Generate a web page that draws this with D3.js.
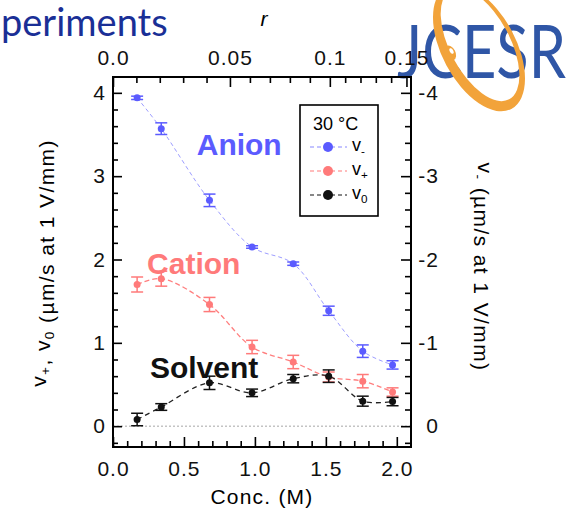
<!DOCTYPE html>
<html>
<head>
<meta charset="utf-8">
<script src="https://cdn.jsdelivr.net/npm/d3@7"></script>
<style>
  body { margin: 0; background: #fff; }
  svg { display: block; font-family: "Liberation Sans", Arial, sans-serif; }
  .tick text { font-size: 21px; letter-spacing: 1px; fill: #111; }
</style>
</head>
<body>
<svg id="viz"></svg>
<script>
// the data
var conc = [0.17, 0.34, 0.68, 0.98, 1.27, 1.52, 1.76, 1.97];
var vMinus = [-3.94, -3.57, -2.71, -2.15, -1.95, -1.385, -0.90, -0.735];
var errMinus = [0.02, 0.07, 0.075, 0.015, 0.02, 0.055, 0.075, 0.05];
var vPlus = [1.70, 1.77, 1.46, 0.95, 0.77, 0.59, 0.54, 0.41];
var errPlus = [0.09, 0.09, 0.085, 0.08, 0.08, 0.06, 0.08, 0.05];
var vZero = [0.08, 0.23, 0.52, 0.40, 0.57, 0.60, 0.30, 0.295];
var errZero = [0.075, 0.04, 0.08, 0.045, 0.05, 0.075, 0.06, 0.05];

// top axis: r against concentration
var rTicks = [0, 0.05, 0.1, 0.15];
var rLabels = ["0.0", "0.05", "0.1", "0.15"];
var rConc = [0, 0.824, 1.528, 2.068];

var xTicks = [0, 0.5, 1, 1.5, 2];
var xLabels = ["0.0", "0.5", "1.0", "1.5", "2.0"];
var yTicks = [0, 1, 2, 3, 4];
var yRTicks = [0, -1, -2, -3, -4];

// set up the svg
var w = 566, h = 509;
var svg = d3.select("#viz").attr("width", w).attr("height", h);

var pL = 113, pR = 411, pT = 77, pB = 447;
var x = d3.scaleLinear().domain([0, 2.1]).range([pL, pR]);
var y = d3.scaleLinear().domain([-0.25, 4.19]).range([pB, pT]);
var yR = d3.scaleLinear().domain([0.25, -4.19]).range([pB, pT]);
var rScale = d3.scaleLinear().domain(rTicks).range(rConc.map(x));

var blue = "#5b5bff", pink = "#ff7a7a", black = "#111";

// slide title fragment and logo (behind the chart)
svg.append("text").attr("x", 1).attr("y", 36)
  .style("font-family", "Lato, sans-serif").style("font-size", "38px")
  .attr("fill", "#1a2f96").text("periments");

var logo = svg.append("g");
logo.append("text").attr("x", 397).attr("y", 78)
  .attr("textLength", 169).attr("lengthAdjust", "spacingAndGlyphs")
  .style("font-family", "Lato, sans-serif").style("font-size", "74px")
  .attr("fill", "#2f56a6").text("JCESR");

// ring as a crescent: outer ellipse minus a shifted inner one
function ell(cx, cy, rx, ry) {
  return "M" + (cx - rx) + "," + cy + " a" + rx + "," + ry + " 0 1,0 " + (2 * rx) + ",0" +
    " a" + rx + "," + ry + " 0 1,0 " + (-2 * rx) + ",0 Z";
}
logo.append("path")
  .attr("d", ell(0, 0, 37, 69) + ell(2.5, -2.5, 30, 62))
  .attr("transform", "translate(479,48) rotate(-28)")
  .attr("fill", "#f2a33a").attr("fill-rule", "evenodd");
logo.append("ellipse").attr("cx", 450).attr("cy", 53).attr("rx", 5.5).attr("ry", 8)
  .attr("transform", "rotate(-28,450,53)").attr("fill", "#f2a33a");
logo.append("ellipse").attr("cx", 451.5).attr("cy", 51).attr("rx", 1.8).attr("ry", 3)
  .attr("transform", "rotate(-28,451.5,51)").attr("fill", "#fff");

// zero line
svg.append("line").attr("x1", pL).attr("x2", pR)
  .attr("y1", y(0)).attr("y2", y(0))
  .attr("stroke", "#c4c4c4").attr("stroke-width", 1.5).attr("stroke-dasharray", "2,2");

// axes: major and minor ticks point inward
function minor(lo, hi, step, majors) {
  return d3.range(lo, hi + 1e-9, step).map(function(d) { return +d.toFixed(3); })
    .filter(function(d) { return majors.indexOf(d) < 0; });
}

function drawAxis(axis, majors, minors, tx, ty, big, small, pad, fmt) {
  var g = svg.append("g").attr("transform", "translate(" + tx + "," + ty + ")");
  g.call(axis.tickValues(majors).tickSize(-big).tickSizeOuter(0).tickPadding(pad).tickFormat(fmt));
  g.select(".domain").remove();
  var g2 = svg.append("g").attr("transform", "translate(" + tx + "," + ty + ")");
  g2.call(axis.tickValues(minors).tickSize(-small).tickFormat(""));
  g2.select(".domain").remove();
  svg.selectAll(".tick line").attr("stroke", "#000").attr("stroke-width", 1.6);
  return g;
}

drawAxis(d3.axisBottom(x), xTicks, minor(0, 2.0, 0.1, xTicks), 0, pB, 10, 6, 14,
  function(d, i) { return xLabels[i]; });
drawAxis(d3.axisTop(rScale), rTicks, minor(0, 0.14, 0.01, rTicks), 0, pT, 10, 6, 12,
  function(d, i) { return rLabels[i]; });
drawAxis(d3.axisLeft(y), yTicks, minor(-0.2, 4.0, 0.2, yTicks), pL, 0, 9, 5, 7,
  function(d) { return String(d); });
var gR = drawAxis(d3.axisRight(yR), yRTicks, minor(-4.0, 0.2, 0.2, yRTicks), pR, 0, 10, 6, 0,
  function(d) { return String(d); });
gR.selectAll("text").attr("text-anchor", "end").attr("x", 28);

// frame
svg.append("rect").attr("x", pL).attr("y", pT)
  .attr("width", pR - pL).attr("height", pB - pT)
  .attr("fill", "none").attr("stroke", "#000").attr("stroke-width", 2);

// axis titles
svg.append("text").attr("x", 264).attr("y", 26).attr("text-anchor", "middle")
  .style("font-size", "21px").style("font-style", "italic").text("r");
svg.append("text").attr("x", 262).attr("y", 504).attr("text-anchor", "middle")
  .style("font-size", "21px").style("letter-spacing", "1.2px").text("Conc. (M)");

function subLabel(sel, parts) {
  parts.forEach(function(p) {
    if (p.sub) {
      sel.append("tspan").attr("dy", "0.3em").style("font-size", "0.65em").text(p.t);
      sel.append("tspan").attr("dy", "-0.3em").text("");
    } else {
      sel.append("tspan").text(p.t);
    }
  });
}

var tL = svg.append("text").attr("transform", "translate(46,263) rotate(-90)")
  .attr("text-anchor", "middle").style("font-size", "21px").style("letter-spacing", "1.4px");
subLabel(tL, [{t: "v"}, {t: "+", sub: true}, {t: ", v"}, {t: "0", sub: true}, {t: " (µm/s at 1 V/mm)"}]);

var tR = svg.append("text").attr("transform", "translate(478,267) rotate(90)")
  .attr("text-anchor", "middle").style("font-size", "21px").style("letter-spacing", "1.4px");
subLabel(tR, [{t: "v"}, {t: "-", sub: true}, {t: " (µm/s at 1 V/mm)"}]);

// series
var series = [
  {v: vMinus, e: errMinus, s: yR, color: blue, line: "#9d9dff", dash: "4,3", lw: 1},
  {v: vPlus, e: errPlus, s: y, color: pink, line: "#ff7f7f", dash: "5,3", lw: 1.3},
  {v: vZero, e: errZero, s: y, color: black, line: "#222", dash: "5,4", lw: 1.3}
];

series.forEach(function(sr) {
  var pts = conc.map(function(c, i) { return [c, sr.v[i], sr.e[i]]; });
  var line = d3.line().x(function(d) { return x(d[0]); }).y(function(d) { return sr.s(d[1]); })
    .curve(d3.curveCatmullRom);
  svg.append("path").attr("d", line(pts)).attr("fill", "none")
    .attr("stroke", sr.line).attr("stroke-width", sr.lw).attr("stroke-dasharray", sr.dash);

  var g = svg.append("g").attr("stroke", sr.color).attr("stroke-width", 1.5);
  g.selectAll(null).data(pts).enter().append("line")
    .attr("x1", function(d) { return x(d[0]); }).attr("x2", function(d) { return x(d[0]); })
    .attr("y1", function(d) { return sr.s(d[1] - d[2]); })
    .attr("y2", function(d) { return sr.s(d[1] + d[2]); });
  [-1, 1].forEach(function(k) {
    g.selectAll(null).data(pts).enter().append("line")
      .attr("x1", function(d) { return x(d[0]) - 6; }).attr("x2", function(d) { return x(d[0]) + 6; })
      .attr("y1", function(d) { return sr.s(d[1] + k * d[2]); })
      .attr("y2", function(d) { return sr.s(d[1] + k * d[2]); });
  });
  svg.append("g").selectAll("circle").data(pts).enter().append("circle")
    .attr("cx", function(d) { return x(d[0]); }).attr("cy", function(d) { return sr.s(d[1]); })
    .attr("r", 3.5).attr("fill", sr.color);
});

// annotations
var notes = [
  {t: "Anion", c: 0.59, v: 3.26, color: blue},
  {t: "Cation", c: 0.24, v: 1.83, color: pink},
  {t: "Solvent", c: 0.26, v: 0.58, color: black}
];
svg.selectAll("text.note").data(notes).enter().append("text")
  .attr("x", function(d) { return x(d.c); }).attr("y", function(d) { return y(d.v); })
  .attr("fill", function(d) { return d.color; })
  .style("font-size", "30px").style("font-weight", "bold")
  .text(function(d) { return d.t; });

// legend
var lg = svg.append("g");
lg.append("rect").attr("x", 300).attr("y", 105).attr("width", 78).attr("height", 111)
  .attr("fill", "#fff").attr("stroke", "#000").attr("stroke-width", 1.6);
lg.append("text").attr("x", 313).attr("y", 130).style("font-size", "18px").text("30 °C");
var items = [
  {sub: "-", color: blue, line: "#8888ff", dash: "4,3"},
  {sub: "+", color: pink, line: pink, dash: "4,3"},
  {sub: "0", color: black, line: black, dash: "4,3"}
];
items.forEach(function(it, i) {
  var yy = 147 + i * 24;
  lg.append("line").attr("x1", 310).attr("x2", 347).attr("y1", yy).attr("y2", yy)
    .attr("stroke", it.line).attr("stroke-width", 1.2).attr("stroke-dasharray", it.dash);
  lg.append("circle").attr("cx", 328).attr("cy", yy).attr("r", 5).attr("fill", it.color);
  var t = lg.append("text").attr("x", 352).attr("y", yy + 4).style("font-size", "18px");
  subLabel(t, [{t: "v"}, {t: it.sub, sub: true}]);
});
</script>
</body>
</html>
